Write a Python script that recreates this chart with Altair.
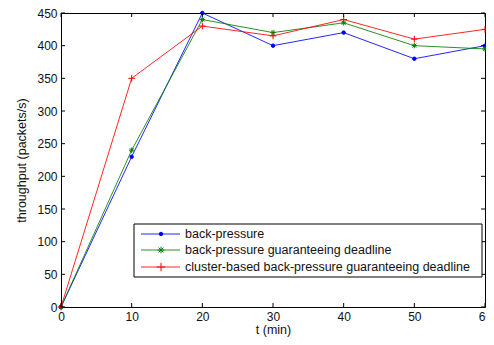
import altair as alt
import pandas as pd

t_min = [0, 10, 20, 30, 40, 50, 60]
back_pressure = [0, 230, 450, 400, 420, 380, 400]
bp_deadline = [0, 240, 440, 420, 435, 400, 395]
cluster_bp_deadline = [0, 350, 430, 415, 440, 410, 425]

series_names = [
    "back-pressure",
    "back-pressure guaranteeing deadline",
    "cluster-based back-pressure guaranteeing deadline",
]
series_colors = ["#0000ff", "#008000", "#ff0000"]
x_ticks = [0, 10, 20, 30, 40, 50, 60]
y_ticks = [0, 50, 100, 150, 200, 250, 300, 350, 400, 450]

W, H = 424, 294
PAD_TOP = 5

dot = "circle"
star = "M-1,0L1,0M0,-1L0,1M-0.72,-0.72L0.72,0.72M-0.72,0.72L0.72,-0.72"
plus = "M-1,0L1,0M0,-1L0,1"
shapes = [dot, star, plus]
sizes = [12, 45, 70]

rows = []
for name, vals in zip(series_names, [back_pressure, bp_deadline, cluster_bp_deadline]):
    for t, v in zip(t_min, vals):
        rows.append({"t": t, "v": v, "series": name})
df = pd.DataFrame(rows)

font = "Liberation Sans"
xs = alt.Scale(domain=[0, 60], nice=False, zero=False)
ys = alt.Scale(domain=[0, 450], nice=False)
xaxis = alt.Axis(values=x_ticks, title="t (min)", ticks=False, domain=False, grid=False,
                 labelOverlap=False, labelFlush=False,
                 labelFont=font, labelFontSize=12, labelColor="#111", labelPadding=4,
                 titleFont=font, titleFontSize=12.5, titleFontWeight="normal",
                 titleColor="#111", titlePadding=1)
yaxis = alt.Axis(values=y_ticks, title="throughput (packets/s)", ticks=False, domain=False,
                 grid=False, labelOverlap=False, labelFlush=False,
                 labelFont=font, labelFontSize=12, labelColor="#111",
                 labelPadding=4, titleFont=font, titleFontSize=12.5,
                 titleFontWeight="normal", titleColor="#111", titlePadding=8)
X = lambda f: alt.X(f, scale=xs, axis=xaxis)
Y = lambda f: alt.Y(f, scale=ys, axis=yaxis)
col = alt.Color("series:N", scale=alt.Scale(domain=series_names, range=series_colors), legend=None)

lines = alt.Chart(df).mark_line(strokeWidth=1, opacity=0.85).encode(
    x=X("t:Q"), y=Y("v:Q"), color=col, detail="series:N")

pts = alt.Chart(df).mark_point(filled=False, strokeWidth=1, opacity=1).encode(
    x=X("t:Q"),
    y=Y("v:Q"),
    color=col,
    fill=alt.Fill("series:N", scale=alt.Scale(domain=series_names,
                                              range=["#0000ff", "transparent", "transparent"]),
                  legend=None),
    shape=alt.Shape("series:N", scale=alt.Scale(domain=series_names, range=shapes), legend=None),
    size=alt.Size("series:N", scale=alt.Scale(domain=series_names, range=sizes), legend=None),
)

xt = pd.DataFrame({"t": x_ticks})
yt = pd.DataFrame({"v": y_ticks})
tick_style = dict(color="#000", strokeWidth=1)
xb = alt.Chart(xt).mark_rule(**tick_style).encode(x=X("t:Q"), y=alt.value(H), y2=alt.value(H - 4))
xtp = alt.Chart(xt).mark_rule(**tick_style).encode(x=X("t:Q"), y=alt.value(0), y2=alt.value(4))
yl = alt.Chart(yt).mark_rule(**tick_style).encode(y=Y("v:Q"), x=alt.value(0), x2=alt.value(4))
yr = alt.Chart(yt).mark_rule(**tick_style).encode(y=Y("v:Q"), x=alt.value(W), x2=alt.value(W - 4))

# legend box (pixel positions inside the plot area)
lx0, lx1, ly0, ly1 = 73, 421, 211, 264
row_y = [221, 237, 254]
box = alt.Chart(pd.DataFrame({"a": [0]})).mark_rect(fill="white", stroke="#000", strokeWidth=1).encode(
    x=alt.value(lx0), x2=alt.value(lx1), y=alt.value(ly0), y2=alt.value(ly1))

leg_layers = [box]
for i, name in enumerate(series_names):
    d = pd.DataFrame({"series": [name]})
    leg_layers.append(alt.Chart(d).mark_rule(strokeWidth=1, color=series_colors[i], opacity=0.85).encode(
        x=alt.value(80), x2=alt.value(119), y=alt.value(row_y[i])))
    leg_layers.append(alt.Chart(d).mark_point(
        shape=shapes[i], size=sizes[i], filled=False, strokeWidth=1, color=series_colors[i],
        fill=series_colors[i] if i == 0 else "transparent", opacity=1).encode(
        x=alt.value(100), y=alt.value(row_y[i])))
    leg_layers.append(alt.Chart(d).mark_text(
        align="left", baseline="middle", font=font, fontSize=12.5, color="#111").encode(
        x=alt.value(124), y=alt.value(row_y[i]), text="series:N"))

chart = alt.layer(lines, pts, xb, xtp, yl, yr, *leg_layers).properties(
    width=W, height=H,
    autosize=alt.AutoSizeParams(type="none"),
    padding={"left": 53, "top": PAD_TOP, "right": 1, "bottom": 30},
    background="white",
).configure_view(stroke="#000", strokeWidth=1)

chart.save("out.html", embed_options={"renderer": "svg", "actions": False})
